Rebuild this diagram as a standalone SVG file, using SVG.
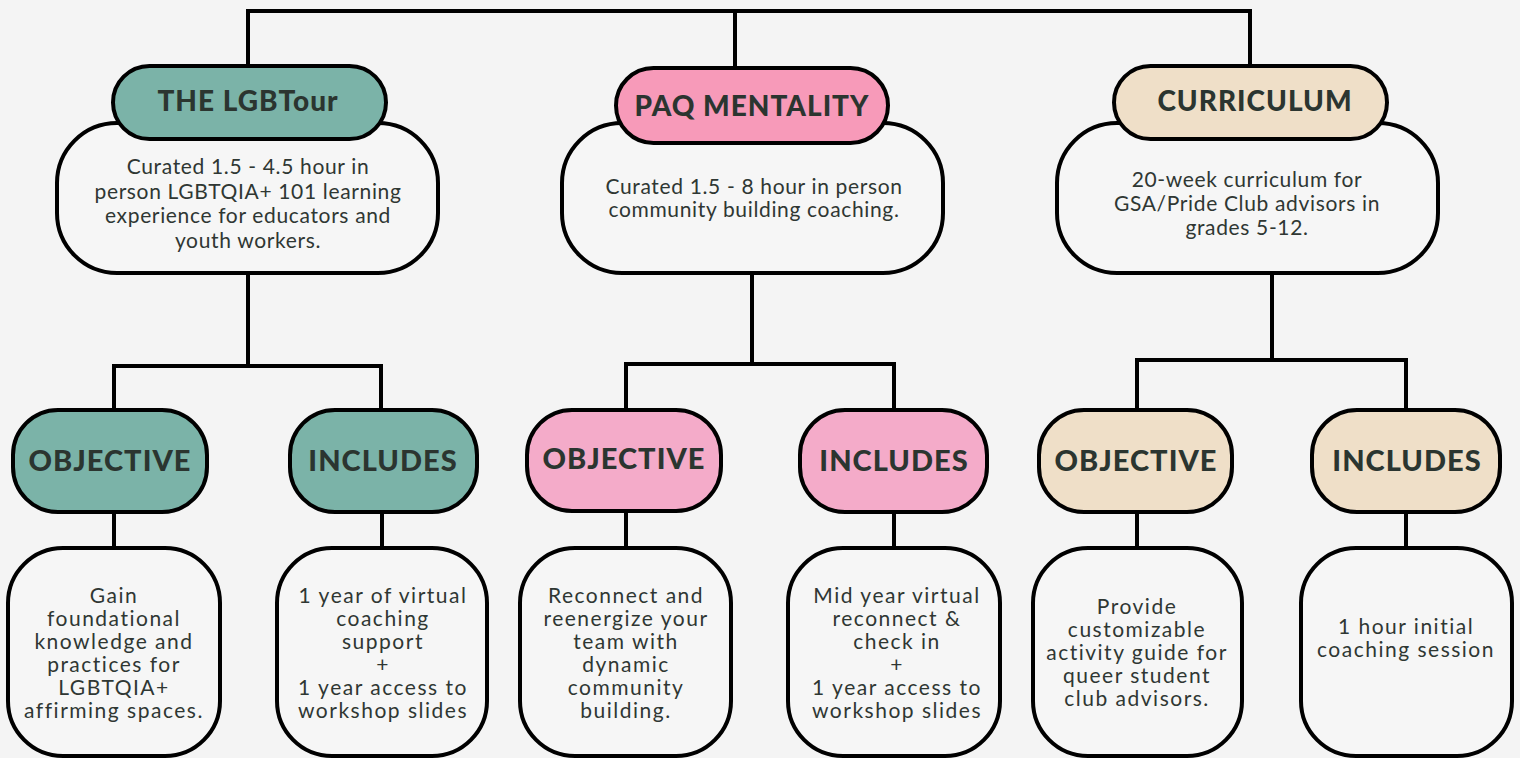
<svg xmlns="http://www.w3.org/2000/svg" width="1520" height="758" viewBox="0 0 1520 758">
<style>
.bg{fill:#f4f4f4}
.box{fill:#f6f6f6;stroke:#000;stroke-width:4}
.teal{fill:#7bb3a8;stroke:#000;stroke-width:4}
.pink{fill:#f79ab9;stroke:#000;stroke-width:4}
.pink2{fill:#f4abc9;stroke:#000;stroke-width:4}
.beige{fill:#efdfc8;stroke:#000;stroke-width:4}
.con{fill:none;stroke:#000;stroke-width:4}
.h{font-family:"Lato","Liberation Sans",sans-serif;font-weight:900;fill:#2b3530;text-anchor:middle;letter-spacing:1px}
.t{font-family:"Lato","Liberation Sans",sans-serif;font-size:21px;letter-spacing:0.65px;fill:#2f3733;text-anchor:middle}
.s{font-family:"Lato","Liberation Sans",sans-serif;font-size:21px;letter-spacing:1.5px;fill:#2f3733;text-anchor:middle}
</style>
<rect class="bg" x="0" y="0" width="1520" height="758"/>
<g id="connectors">
<path class="con" d="M248,67 V11 H1250 V66"/>
<path class="con" d="M735,11 V68"/>
<path class="con" d="M248,273 V366"/>
<path class="con" d="M114,412 V366 H381 V412"/>
<path class="con" d="M752,273 V363"/>
<path class="con" d="M626,412 V364 H894 V412"/>
<path class="con" d="M1272,273 V360"/>
<path class="con" d="M1137,412 V360 H1406 V412"/>
<path class="con" d="M114,512 V548"/>
<path class="con" d="M382,512 V548"/>
<path class="con" d="M626,511 V548"/>
<path class="con" d="M894,512 V548"/>
<path class="con" d="M1137,512 V548"/>
<path class="con" d="M1406,512 V548"/>
</g>
<g id="lgbtour-desc">
<rect class="box" x="57" y="123" width="381" height="150" rx="60"/>
<text class="t"><tspan x="248" y="174">Curated 1.5 - 4.5 hour in</tspan><tspan x="248" y="199">person LGBTQIA+ 101 learning</tspan><tspan x="248" y="223">experience for educators and</tspan><tspan x="248" y="248">youth workers.</tspan></text>
</g>
<g id="lgbtour">
<rect class="teal" x="113" y="66" width="273" height="73" rx="36.5"/>
<text class="h" x="248" y="111" font-size="28">THE LGBTour</text>
</g>
<g id="paq-desc">
<rect class="box" x="562" y="123" width="381" height="150" rx="60"/>
<text class="t"><tspan x="754" y="194">Curated 1.5 - 8 hour in person</tspan><tspan x="754" y="217">community building coaching.</tspan></text>
</g>
<g id="paq">
<rect class="pink" x="616" y="68" width="272" height="75" rx="37.5"/>
<text class="h" x="752" y="116" font-size="28">PAQ MENTALITY</text>
</g>
<g id="curriculum-desc">
<rect class="box" x="1057" y="123" width="381" height="150" rx="60"/>
<text class="t"><tspan x="1247" y="187">20-week curriculum for</tspan><tspan x="1247" y="211">GSA/Pride Club advisors in</tspan><tspan x="1247" y="235">grades 5-12.</tspan></text>
</g>
<g id="curriculum">
<rect class="beige" x="1114" y="66" width="273" height="73" rx="36.5"/>
<text class="h" x="1255" y="111" font-size="28">CURRICULUM</text>
</g>
<g id="lgbtour-objective">
<rect class="teal" x="13" y="410" width="194" height="102" rx="45"/>
<text class="h" x="110" y="471" font-size="29">OBJECTIVE</text>
</g>
<g id="lgbtour-includes">
<rect class="teal" x="290" y="410" width="187" height="102" rx="45"/>
<text class="h" x="383" y="471" font-size="29">INCLUDES</text>
</g>
<g id="paq-objective">
<rect class="pink2" x="527" y="410" width="194" height="101" rx="45"/>
<text class="h" x="624" y="469" font-size="29">OBJECTIVE</text>
</g>
<g id="paq-includes">
<rect class="pink2" x="800" y="410" width="187" height="102" rx="45"/>
<text class="h" x="894" y="471" font-size="29">INCLUDES</text>
</g>
<g id="cur-objective">
<rect class="beige" x="1039" y="410" width="193" height="102" rx="45"/>
<text class="h" x="1136" y="471" font-size="29">OBJECTIVE</text>
</g>
<g id="cur-includes">
<rect class="beige" x="1312" y="410" width="188" height="102" rx="45"/>
<text class="h" x="1407" y="471" font-size="29">INCLUDES</text>
</g>
<g id="lgbtour-objective-desc">
<rect class="box" x="8" y="548" width="212" height="208" rx="55"/>
<text class="s"><tspan x="114" y="603">Gain</tspan><tspan x="114" y="626">foundational</tspan><tspan x="114" y="649">knowledge and</tspan><tspan x="114" y="672">practices for</tspan><tspan x="114" y="695">LGBTQIA+</tspan><tspan x="114" y="718">affirming spaces.</tspan></text>
</g>
<g id="lgbtour-includes-desc">
<rect class="box" x="277" y="548" width="210" height="208" rx="55"/>
<text class="s"><tspan x="383" y="603">1 year of virtual</tspan><tspan x="383" y="626">coaching</tspan><tspan x="383" y="649">support</tspan><tspan x="383" y="672">+</tspan><tspan x="383" y="695">1 year access to</tspan><tspan x="383" y="718">workshop slides</tspan></text>
</g>
<g id="paq-objective-desc">
<rect class="box" x="520" y="548" width="211" height="208" rx="55"/>
<text class="s"><tspan x="626" y="603">Reconnect and</tspan><tspan x="626" y="626">reenergize your</tspan><tspan x="626" y="649">team with</tspan><tspan x="626" y="672">dynamic</tspan><tspan x="626" y="695">community</tspan><tspan x="626" y="718">building.</tspan></text>
</g>
<g id="paq-includes-desc">
<rect class="box" x="788" y="548" width="212" height="208" rx="55"/>
<text class="s"><tspan x="897" y="603">Mid year virtual</tspan><tspan x="897" y="626">reconnect &amp;</tspan><tspan x="897" y="649">check in</tspan><tspan x="897" y="672">+</tspan><tspan x="897" y="695">1 year access to</tspan><tspan x="897" y="718">workshop slides</tspan></text>
</g>
<g id="cur-objective-desc">
<rect class="box" x="1033" y="548" width="209" height="208" rx="55"/>
<text class="s"><tspan x="1137" y="614">Provide</tspan><tspan x="1137" y="637">customizable</tspan><tspan x="1137" y="660">activity guide for</tspan><tspan x="1137" y="683">queer student</tspan><tspan x="1137" y="706">club advisors.</tspan></text>
</g>
<g id="cur-includes-desc">
<rect class="box" x="1301" y="548" width="211" height="208" rx="55"/>
<text class="s"><tspan x="1406" y="634">1 hour initial</tspan><tspan x="1406" y="657">coaching session</tspan></text>
</g>
</svg>
